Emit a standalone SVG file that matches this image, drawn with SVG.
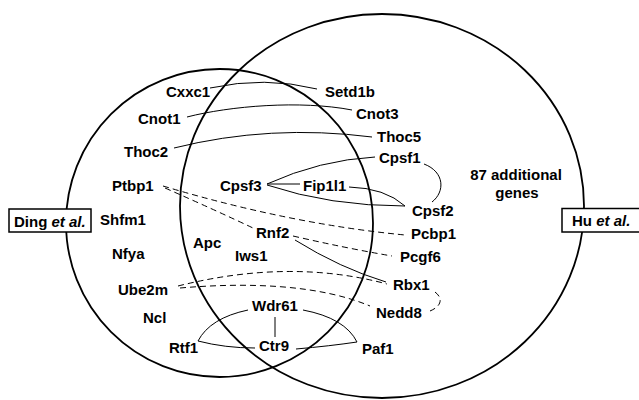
<svg xmlns="http://www.w3.org/2000/svg" width="639" height="400" viewBox="0 0 639 400">
<style>
text{font-family:"Liberation Sans",Arial,sans-serif;font-weight:bold;font-size:15px;fill:#000}
.c{fill:none;stroke:#000;stroke-width:1.8}
.l{fill:none;stroke:#000;stroke-width:1}
.d{fill:none;stroke:#000;stroke-width:1;stroke-dasharray:6,4}
.box{fill:#fff;stroke:#000;stroke-width:1.5}
</style>
<rect width="639" height="400" fill="#fff"/>
<g id="sets">
<ellipse class="c" cx="219.5" cy="223" rx="153.5" ry="154"/>
<ellipse class="c" cx="382" cy="206" rx="202" ry="192"/>
</g>
<g id="connectors">
<path class="l" d="M210 88 Q265 76 317 89"/>
<path class="l" d="M187 117 C230 106 300 100 352 110"/>
<path class="l" d="M174 148 Q270 124 372 137"/>
<path class="l" d="M267 184 Q320 160 375 157"/>
<path class="l" d="M267 184 L300 184"/>
<path class="l" d="M267 185 Q330 206 405 206"/>
<path class="l" d="M349 187 Q385 188 405 206"/>
<path class="l" d="M424 164 C445 172 445 192 432 202"/>
<path class="d" d="M163 186 Q290 224 405 235"/>
<path class="d" d="M165 188 Q215 210 253 228"/>
<path class="d" d="M293 236 Q345 248 392 256"/>
<path class="l" d="M295 240 Q340 268 386 282"/>
<path class="d" d="M178 286 Q290 258 387 284"/>
<path class="d" d="M180 288 C250 282 320 285 370 306"/>
<path class="d" d="M435 292 C443 298 442 306 430 311"/>
<path class="l" d="M275 317 L275 337"/>
<path class="l" d="M248 310 Q210 318 198 341"/>
<path class="l" d="M198 341 Q225 348 255 348"/>
<path class="l" d="M303 310 Q345 318 357 342"/>
<path class="l" d="M296 349 Q330 346 357 342"/>
</g>
<g id="n-cxxc1"><text x="166" y="97">Cxxc1</text></g>
<g id="n-setd1b"><text x="325" y="97">Setd1b</text></g>
<g id="n-cnot1"><text x="138" y="124">Cnot1</text></g>
<g id="n-cnot3"><text x="356" y="119">Cnot3</text></g>
<g id="n-thoc2"><text x="124" y="157">Thoc2</text></g>
<g id="n-thoc5"><text x="377" y="142">Thoc5</text></g>
<g id="n-cpsf1"><text x="379" y="163">Cpsf1</text></g>
<g id="n-extra"><text x="516" y="180" text-anchor="middle">87 additional</text><text x="517" y="198" text-anchor="middle">genes</text></g>
<g id="n-ptbp1"><text x="112" y="191">Ptbp1</text></g>
<g id="n-cpsf3"><text x="220" y="191">Cpsf3</text></g>
<g id="n-fip1l1"><text x="303" y="191">Fip1l1</text></g>
<g id="n-cpsf2"><text x="412" y="216">Cpsf2</text></g>
<g id="n-shfm1"><text x="100" y="225">Shfm1</text></g>
<g id="n-pcbp1"><text x="411" y="239">Pcbp1</text></g>
<g id="n-rnf2"><text x="256" y="238">Rnf2</text></g>
<g id="n-apc"><text x="193" y="248">Apc</text></g>
<g id="n-iws1"><text x="235" y="261">Iws1</text></g>
<g id="n-nfya"><text x="112" y="259">Nfya</text></g>
<g id="n-pcgf6"><text x="400" y="262">Pcgf6</text></g>
<g id="n-ube2m"><text x="118" y="295">Ube2m</text></g>
<g id="n-rbx1"><text x="393" y="290">Rbx1</text></g>
<g id="n-wdr61"><text x="252" y="311">Wdr61</text></g>
<g id="n-nedd8"><text x="376" y="318">Nedd8</text></g>
<g id="n-ncl"><text x="143" y="323">Ncl</text></g>
<g id="n-rtf1"><text x="169" y="353">Rtf1</text></g>
<g id="n-ctr9"><text x="259" y="351">Ctr9</text></g>
<g id="n-paf1"><text x="362" y="354">Paf1</text></g>
<g id="label-ding"><rect class="box" x="9" y="209" width="82" height="23"/><text x="14" y="226.5">Ding <tspan font-style="italic">et al.</tspan></text></g>
<g id="label-hu"><rect class="box" x="562" y="208.5" width="80" height="23.5"/><text x="572" y="226">Hu <tspan font-style="italic">et al.</tspan></text></g>
</svg>
